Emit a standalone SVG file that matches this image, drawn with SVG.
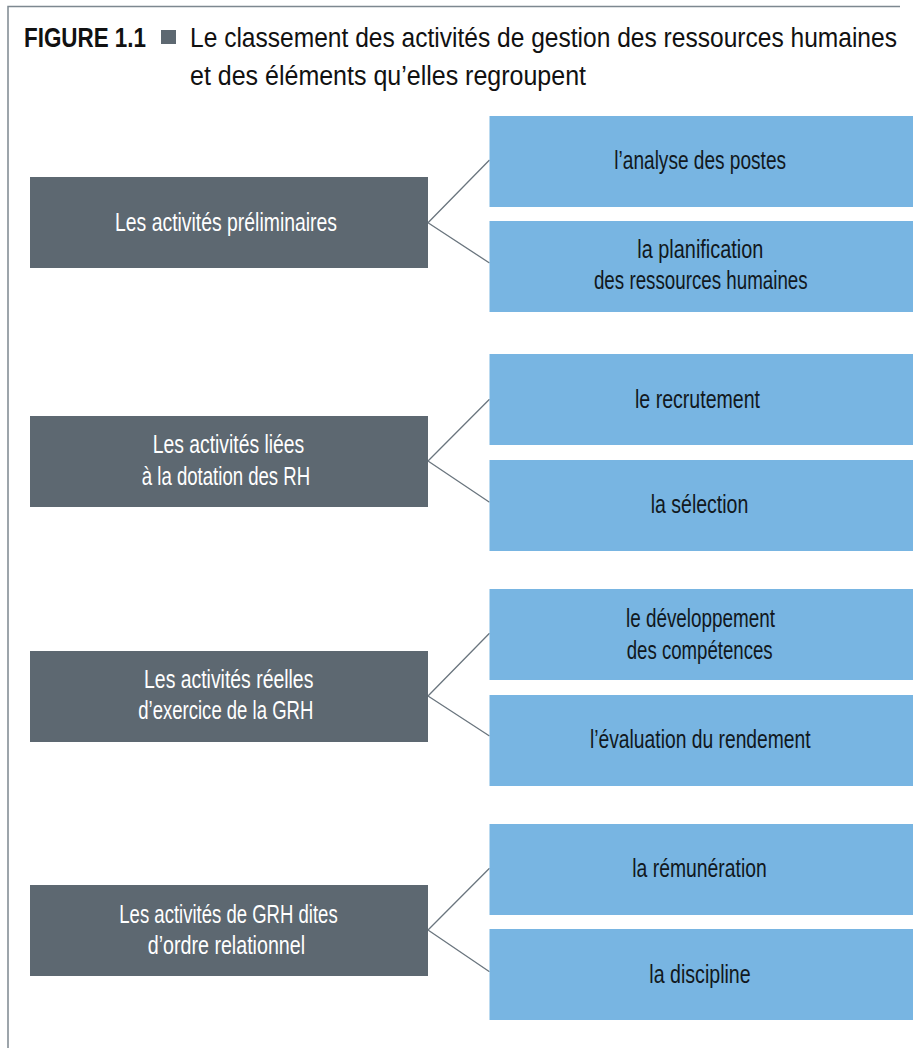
<svg xmlns="http://www.w3.org/2000/svg" width="924" height="1048" viewBox="0 0 924 1048">
<style>
.frame{stroke:#7d8890;stroke-width:1.5;fill:none}
.dark{fill:#5d6871}
.blue{fill:#78b5e2}
.conn{stroke:#6a757e;stroke-width:1.3;fill:none}
.t{font-family:"Liberation Sans",Arial,sans-serif;font-size:25px;text-anchor:middle}
.w{fill:#ffffff}
.k{fill:#111820}
.title{font-family:"Liberation Sans",Arial,sans-serif;font-size:27.5px;fill:#111111}
</style>
<rect width="924" height="1048" fill="#ffffff"/>
<g id="frame">
<path class="frame" d="M8,1048 V6.5 H900"/>
</g>
<g id="title">
<text class="title" x="24" y="46.5" font-weight="bold" textLength="122" lengthAdjust="spacingAndGlyphs">FIGURE 1.1</text>
<rect x="161" y="30" width="15" height="14" fill="#5d6871"/>
<text class="title" transform="translate(190,46.5) scale(0.8,1)" x="0" y="0" textLength="883.7" lengthAdjust="spacingAndGlyphs">Le classement des activités de gestion des ressources humaines</text>
<text class="title" x="190" y="84.5" textLength="396" lengthAdjust="spacingAndGlyphs">et des éléments qu’elles regroupent</text>
</g>
<g id="connectors">
<path class="conn" d="M428,222.7 L489.5,160 M428,222.7 L489.5,263"/>
<path class="conn" d="M428,461 L489.5,399.3 M428,461 L489.5,502.3"/>
<path class="conn" d="M428,696 L489.5,633.3 M428,696 L489.5,736"/>
<path class="conn" d="M428,930 L489.5,868.3 M428,930 L489.5,971.7"/>
</g>
<g id="cat1">
<rect class="dark" x="30" y="177" width="398" height="91"/>
<text class="t w" x="226" y="231" textLength="222" lengthAdjust="spacingAndGlyphs">Les activités préliminaires</text>
</g>
<g id="cat2">
<rect class="dark" x="30" y="416" width="398" height="91"/>
<text class="t w" x="228.5" y="453.3" textLength="151.6" lengthAdjust="spacingAndGlyphs">Les activités liées</text>
<text class="t w" x="226" y="485" textLength="168.3" lengthAdjust="spacingAndGlyphs">à la dotation des RH</text>
</g>
<g id="cat3">
<rect class="dark" x="30" y="651" width="398" height="91"/>
<text class="t w" x="228.7" y="687.7" textLength="169.3" lengthAdjust="spacingAndGlyphs">Les activités réelles</text>
<text class="t w" x="225.8" y="719.3" textLength="175" lengthAdjust="spacingAndGlyphs">d’exercice de la GRH</text>
</g>
<g id="cat4">
<rect class="dark" x="30" y="885" width="398" height="91"/>
<text class="t w" x="228.5" y="922.7" textLength="218.4" lengthAdjust="spacingAndGlyphs">Les activités de GRH dites</text>
<text class="t w" x="226.4" y="954.3" textLength="157.3" lengthAdjust="spacingAndGlyphs">d’ordre relationnel</text>
</g>
<g id="item1a">
<rect class="blue" x="489.5" y="116" width="423.5" height="91"/>
<text class="t k" x="700.2" y="169.3" textLength="171.7" lengthAdjust="spacingAndGlyphs">l’analyse des postes</text>
</g>
<g id="item1b">
<rect class="blue" x="489.5" y="221" width="423.5" height="91"/>
<text class="t k" x="700.3" y="258.3" textLength="126" lengthAdjust="spacingAndGlyphs">la planification</text>
<text class="t k" x="700.8" y="289.3" textLength="213.7" lengthAdjust="spacingAndGlyphs">des ressources humaines</text>
</g>
<g id="item2a">
<rect class="blue" x="489.5" y="354" width="423.5" height="91"/>
<text class="t k" x="697.5" y="407.7" textLength="125" lengthAdjust="spacingAndGlyphs">le recrutement</text>
</g>
<g id="item2b">
<rect class="blue" x="489.5" y="460" width="423.5" height="91"/>
<text class="t k" x="699.5" y="512.7" textLength="97.7" lengthAdjust="spacingAndGlyphs">la sélection</text>
</g>
<g id="item3a">
<rect class="blue" x="489.5" y="589" width="423.5" height="91"/>
<text class="t k" x="700.5" y="627.3" textLength="149" lengthAdjust="spacingAndGlyphs">le développement</text>
<text class="t k" x="699.7" y="658.7" textLength="146" lengthAdjust="spacingAndGlyphs">des compétences</text>
</g>
<g id="item3b">
<rect class="blue" x="489.5" y="695" width="423.5" height="91"/>
<text class="t k" x="700.3" y="747.7" textLength="220.7" lengthAdjust="spacingAndGlyphs">l’évaluation du rendement</text>
</g>
<g id="item4a">
<rect class="blue" x="489.5" y="824" width="423.5" height="91"/>
<text class="t k" x="699.5" y="876.7" textLength="134.4" lengthAdjust="spacingAndGlyphs">la rémunération</text>
</g>
<g id="item4b">
<rect class="blue" x="489.5" y="929" width="423.5" height="91"/>
<text class="t k" x="700" y="982.7" textLength="101.4" lengthAdjust="spacingAndGlyphs">la discipline</text>
</g>
</svg>
